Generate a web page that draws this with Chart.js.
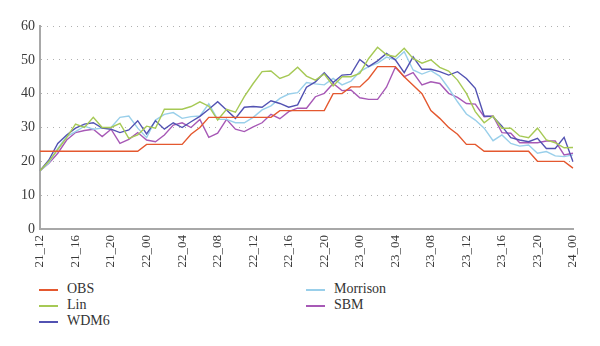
<!DOCTYPE html>
<html>
<head>
<meta charset="utf-8">
<script src="https://cdn.jsdelivr.net/npm/chart.js@4"></script>
<style>
  body { margin: 0; background: #fff; }
  #wrap { position: relative; width: 600px; height: 346px; }
  #chart { position: absolute; left: 0; top: 0; }
  .legend { position: absolute; left: 0; top: 0; font-family: "Liberation Serif", "DejaVu Serif", serif; font-size: 14px; color: #333; }
  .item { position: absolute; white-space: nowrap; height: 16px; line-height: 16px; }
  .item .sw { position: absolute; left: 0; top: 8px; width: 19px; height: 2px; }
  .item .tx { position: absolute; left: 28px; top: 0; }
</style>
</head>
<body>
<div id="wrap">
  <canvas id="chart" width="600" height="280"></canvas>
  <div id="legend" class="legend"></div>
</div>
<script>
const hours = [
    '21_12', '21_13', '21_14', '21_15', '21_16', '21_17', '21_18', '21_19',
    '21_20', '21_21', '21_22', '21_23', '22_00', '22_01', '22_02', '22_03',
    '22_04', '22_05', '22_06', '22_07', '22_08', '22_09', '22_10', '22_11',
    '22_12', '22_13', '22_14', '22_15', '22_16', '22_17', '22_18', '22_19',
    '22_20', '22_21', '22_22', '22_23', '23_00', '23_01', '23_02', '23_03',
    '23_04', '23_05', '23_06', '23_07', '23_08', '23_09', '23_10', '23_11',
    '23_12', '23_13', '23_14', '23_15', '23_16', '23_17', '23_18', '23_19',
    '23_20', '23_21', '23_22', '23_23', '24_00'
];
// only every 4th hour gets a label on the axis
const tickLabels = ['21_12', '21_16', '21_20', '22_00', '22_04', '22_08', '22_12', '22_16',
    '22_20', '23_00', '23_04', '23_08', '23_12', '23_16', '23_20', '24_00'];
const yTicks = [0, 10, 20, 30, 40, 50, 60];

const obs = [23, 23, 23, 23, 23, 23, 23, 23, 23, 23, 23, 23, 25, 25, 25, 25,
    25, 28, 30, 33, 33, 33, 33, 33, 33, 33, 33, 35, 35, 35, 35, 35,
    35, 40, 40, 42, 42, 44.5, 48, 48, 48, 45, 42.5, 40, 35, 32.7, 30, 28,
    25, 25, 23, 23, 23, 23, 23, 23, 20, 20, 20, 20, 18];
const lin = [17.2, 20, 23.5, 27, 31, 30, 33, 30, 30, 31.2, 26.8, 27.8, 30.4, 29.8, 35.4, 35.4,
    35.4, 36.2, 37.6, 36.3, 32.2, 35.4, 34.5, 39.1, 43, 46.5, 46.7, 44.5, 45.5, 47.8, 45.2, 44,
    45.8, 42.3, 45, 45, 46, 50.4, 53.7, 51.5, 50.9, 53.4, 50.4, 49, 50, 47.8, 46.7, 44,
    40.1, 34.7, 31.4, 33.4, 29.8, 29.8, 27.5, 27, 29.8, 26.3, 25.5, 24, 24.1];
const wdm6 = [17.2, 20.4, 25.3, 27.8, 29.8, 31, 31.4, 29.8, 29.5, 28.5, 29.3, 32, 28.1, 32, 29.5, 31.4,
    30, 31.7, 33.3, 35.4, 37.6, 35.2, 32.7, 36, 36.2, 36, 37.9, 37.1, 36, 36.7, 41.9, 43.5,
    46.2, 43.3, 45.5, 45.7, 50.1, 48, 49.7, 51.9, 50, 46.2, 50.9, 47.2, 47.2, 46.5, 45.5, 46.5,
    44.5, 41.6, 33.4, 33.2, 30.4, 27, 26.3, 25.8, 26.8, 23.8, 23.8, 27.1, 19.9];
const morrison = [17.2, 19.6, 23.8, 27.3, 28.8, 30.4, 29.5, 29.8, 30, 33, 33.4, 29.8, 27, 32.2, 33.9, 34.4,
    32.7, 33.2, 33.4, 37, 32.4, 32.4, 31.4, 31.4, 33, 35.2, 36.4, 38.6, 39.9, 40.3, 43.3, 42.9,
    42.6, 44.5, 42.6, 43.7, 46.5, 48, 49, 50.8, 50, 52.4, 47, 45.8, 46.8, 45.2, 41.6, 37.6,
    34, 32.2, 29.8, 26.1, 27.8, 25.3, 24.5, 24.8, 22.4, 22.9, 21.6, 21.4, 21.9];
const sbm = [17.2, 19.4, 22.4, 26.3, 28.5, 29.1, 29.5, 27.3, 29.5, 25.3, 26.5, 28.5, 26.3, 25.8, 27.8, 30.7,
    31.4, 30, 32.4, 27.1, 28.3, 32.4, 29.5, 28.8, 30.2, 31.4, 33.9, 32.6, 34.7, 35.7, 35.7, 39.1,
    40.1, 43, 40.9, 41.1, 38.8, 38.3, 38.3, 41.9, 47.8, 45, 46.2, 42.6, 43.5, 43, 40.1, 38.9,
    37.1, 36.9, 33.2, 33.4, 28.5, 28.3, 25.5, 25.5, 25.5, 26, 26, 21.9, 22.4];

const serif = "'Liberation Serif', 'DejaVu Serif', serif";
const colors = ['#e4582f', '#a6c955', '#5252b2', '#99cfea', '#a759b6'];

function line(label, values, color) {
    return {
        label: label,
        data: values,
        borderColor: color,
        backgroundColor: color,
        borderWidth: 1.4,
        pointRadius: 0,
        tension: 0,
        fill: false
    };
}

const datasets = [
    line('OBS', obs, colors[0]),
    line('Lin', lin, colors[1]),
    line('WDM6', wdm6, colors[2]),
    line('Morrison', morrison, colors[3]),
    line('SBM', sbm, colors[4])
];

const config = {
    type: 'line',
    data: { labels: hours, datasets: datasets },
    options: {
        responsive: false,
        animation: false,
        layout: { padding: { top: 26, right: 27, left: 0, bottom: 0 } },
        plugins: {
            legend: { display: false },
            tooltip: { enabled: false }
        },
        scales: {
            x: {
                grid: { display: false, drawTicks: false },
                border: { color: '#a8a8a8', width: 2 },
                ticks: {
                    autoSkip: false,
                    maxRotation: 90,
                    minRotation: 90,
                    padding: 6,
                    color: '#3a3a3a',
                    font: { family: serif, size: 13 },
                    callback: function (value, index) {
                        const l = hours[index];
                        return tickLabels.includes(l) ? l : '';
                    }
                },
                afterFit: function (scale) { scale.height = 51; }
            },
            y: {
                min: 0,
                max: 60,
                afterBuildTicks: function (scale) {
                    scale.ticks = yTicks.map(v => ({ value: v }));
                },
                grid: {
                    color: '#b0b0b0',
                    lineWidth: 1,
                    drawTicks: false
                },
                // in v4 border.dash styles the grid lines, the axis line stays solid
                border: { color: '#a8a8a8', width: 2, dash: [1, 5] },
                ticks: {
                    padding: 5,
                    color: '#3a3a3a',
                    font: { family: serif, size: 14 }
                },
                afterFit: function (scale) { scale.width = 40; }
            }
        }
    }
};

const chart = new Chart(document.getElementById('chart'), config);

// legend in two columns, like the figure
const legendNames = ['OBS', 'Lin', 'WDM6', 'Morrison', 'SBM'];
const legendPos = [
    [39, 281], [39, 297], [39, 313],
    [306, 281], [306, 297]
];
const legend = document.getElementById('legend');
legendNames.forEach(function (name, i) {
    const item = document.createElement('div');
    item.className = 'item';
    item.style.left = legendPos[i][0] + 'px';
    item.style.top = legendPos[i][1] + 'px';
    const sw = document.createElement('div');
    sw.className = 'sw';
    sw.style.backgroundColor = colors[i];
    const tx = document.createElement('div');
    tx.className = 'tx';
    tx.textContent = name;
    item.appendChild(sw);
    item.appendChild(tx);
    legend.appendChild(item);
});
</script>
</body>
</html>
